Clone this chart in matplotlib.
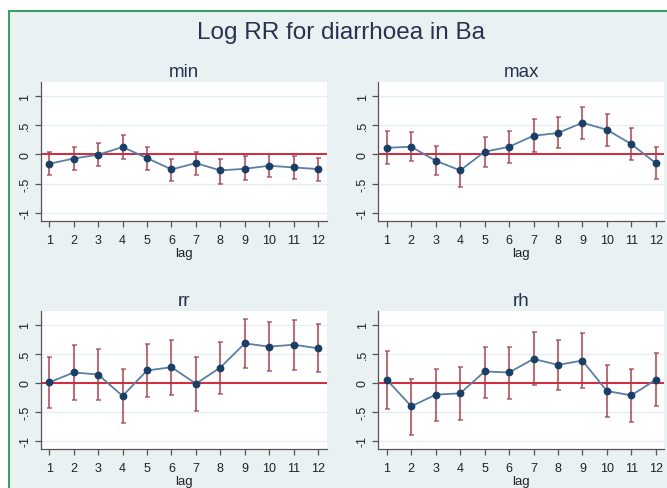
import matplotlib
matplotlib.use("Agg")
import matplotlib.pyplot as plt
from matplotlib.patches import Rectangle
import numpy as np

plt.rcParams['font.family'] = ['Liberation Sans', 'DejaVu Sans']

lags = list(range(1, 13))
panel_names = ["min", "max", "rr", "rh"]

min_est = [-0.16, -0.07, -0.005, 0.126, -0.063, -0.257, -0.149, -0.274, -0.246, -0.194, -0.223, -0.251]
min_hi  = [0.034, 0.13, 0.19, 0.34, 0.12, -0.07, 0.04, -0.07, -0.03, 0.0, -0.034, -0.057]
min_lo  = [-0.354, -0.27, -0.19, -0.08, -0.26, -0.45, -0.35, -0.50, -0.446, -0.394, -0.417, -0.457]

max_est = [0.114, 0.131, -0.109, -0.274, 0.046, 0.131, 0.32, 0.366, 0.543, 0.423, 0.177, -0.149]
max_hi  = [0.40, 0.377, 0.149, 0.006, 0.30, 0.40, 0.60, 0.64, 0.817, 0.697, 0.45, 0.12]
max_lo  = [-0.16, -0.109, -0.36, -0.554, -0.21, -0.143, 0.046, 0.103, 0.257, 0.149, -0.097, -0.423]

rr_est = [0.006, 0.177, 0.142, -0.228, 0.211, 0.268, -0.017, 0.262, 0.678, 0.621, 0.655, 0.593]
rr_hi  = [0.444, 0.65, 0.587, 0.234, 0.667, 0.73, 0.45, 0.707, 1.094, 1.054, 1.088, 1.009]
rr_lo  = [-0.439, -0.296, -0.302, -0.70, -0.245, -0.21, -0.484, -0.194, 0.25, 0.194, 0.228, 0.182]

rh_est = [0.051, -0.405, -0.205, -0.182, 0.194, 0.177, 0.41, 0.308, 0.382, -0.142, -0.217, 0.051]
rh_hi  = [0.541, 0.068, 0.234, 0.279, 0.615, 0.61, 0.866, 0.741, 0.849, 0.308, 0.239, 0.519]
rh_lo  = [-0.444, -0.895, -0.655, -0.638, -0.256, -0.285, -0.046, -0.131, -0.085, -0.593, -0.678, -0.40]

yticks = [-1, -0.5, 0, 0.5, 1]
ytick_labels = ["-1", "-.5", "0", ".5", "1"]

series = [(min_est, min_lo, min_hi), (max_est, max_lo, max_hi),
          (rr_est, rr_lo, rr_hi), (rh_est, rh_lo, rh_hi)]

W, H = 667, 489
fig = plt.figure(figsize=(W / 100, H / 100), dpi=100)
fig.patch.set_facecolor("white")

# outer graph region box
fig.patches.append(Rectangle((9 / W, -0.01), 1.0, 1 - 12 / H + 0.01,
                             transform=fig.transFigure, facecolor="#e9f1f2",
                             edgecolor="#3f9e63", linewidth=1.5, zorder=-5))

fig.text(341 / W, 1 - 33 / H, "Log RR for diarrhoea in Ba", ha="center", va="center",
         fontsize=17.5, color="#27334f")

# axes boxes in pixels: left, right, top, bottom
boxes = [(40.7, 326.7, 83, 222), (378.3, 664.3, 83, 222),
         (40.7, 326.7, 311.7, 450), (378.3, 664.3, 311.7, 450)]

navy = "#1a3f66"
line_col = "#5a7fa3"
err_col = "#a3404c"
ref_col = "#d4283c"

for (name, (est, lo, hi), (l, r, t, b)) in zip(panel_names, series, boxes):
    ax = fig.add_axes([l / W, 1 - b / H, (r - l) / W, (b - t) / H])
    ax.set_facecolor("white")
    ax.set_xlim(0.65, 12.35)
    ax.set_ylim(-1.14, 1.24)
    for y in yticks:
        ax.axhline(y, color="#e3eef0", lw=1.0, zorder=0)
    ax.axhline(0, color=ref_col, lw=1.4, zorder=2)
    est = np.array(est); lo = np.array(lo); hi = np.array(hi)
    ax.errorbar(lags, est, yerr=[est - lo, hi - est], fmt="none", ecolor=err_col,
                elinewidth=1.5, capsize=1.8, capthick=1.2, alpha=0.75, zorder=3)
    ax.plot(lags, est, color=line_col, lw=1.3, zorder=4)
    ax.plot(lags, est, "o", color=navy, ms=4.6, zorder=5)
    ax.set_xticks(lags)
    ax.set_xticklabels([str(v) for v in lags])
    ax.set_yticks(yticks)
    ax.set_yticklabels(ytick_labels, rotation=90, va="center")
    for s in ["top", "right"]:
        ax.spines[s].set_visible(False)
    for s in ["left", "bottom"]:
        ax.spines[s].set_color("#555555")
        ax.spines[s].set_linewidth(0.9)
    ax.tick_params(axis="both", colors="#555555", labelcolor="#222222",
                   labelsize=9, length=4.3, width=0.9, direction="out")
    ax.tick_params(axis="x", pad=5)
    ax.tick_params(axis="y", pad=2.5)
    ax.set_xlabel("lag", fontsize=9.5, color="#222222", labelpad=0.5)
    fig.text((l + r) / 2 / W, 1 - (t - 10.5) / H, name, ha="center", va="center",
             fontsize=13.5, color="#27334f")

fig.savefig("out.png", dpi=100)
